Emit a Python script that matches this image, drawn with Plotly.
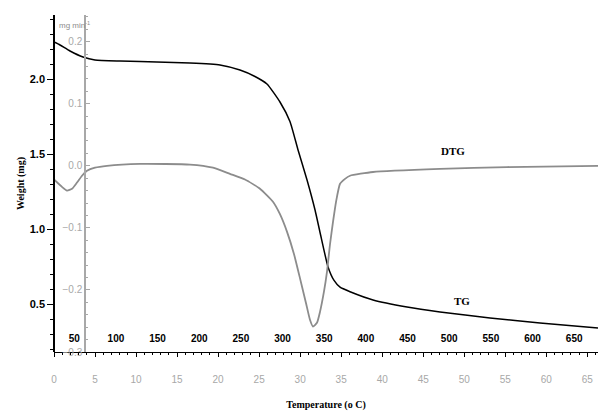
import plotly.graph_objects as go

# ---- data ----
tg_temp = [25.7, 32.9, 44.9, 60.5, 74.9, 104.9, 128.9, 188.9, 224.9, 248.9, 266.9, 281.3,
           296.9, 308.9, 318.6, 329.4, 339.0, 345.0, 354.6, 361.8, 369.0, 381.0, 408.6,
           449.4, 489.0, 549.0, 609.0, 678.6]
tg_weight = [2.25, 2.23, 2.19, 2.15, 2.13, 2.123, 2.12, 2.11, 2.097, 2.063, 2.02, 1.97,
             1.85, 1.72, 1.53, 1.33, 1.13, 0.98, 0.75, 0.66, 0.615, 0.585, 0.53,
             0.483, 0.45, 0.41, 0.377, 0.343]

dtg_temp = [25.7, 35.3, 41.3, 47.3, 53.3, 59.3, 65.3, 74.9, 89.3, 128.9, 188.9, 216.5,
            236.9, 254.9, 272.9, 288.5, 296.9, 305.3, 313.7, 320.9, 328.1, 332.9, 336.5,
            341.3, 345.0, 349.8, 353.4, 357.0, 360.6, 364.2, 369.0, 375.0, 381.0, 408.6,
            489.0, 569.4, 678.6]
dtg_rate = [-0.022, -0.034, -0.040, -0.037, -0.027, -0.016, -0.008, -0.003, 0.0, 0.003,
            0.002, -0.003, -0.013, -0.022, -0.037, -0.058, -0.078, -0.106, -0.142, -0.181,
            -0.221, -0.248, -0.259, -0.253, -0.235, -0.202, -0.170, -0.126, -0.090, -0.058,
            -0.029, -0.021, -0.016, -0.010, -0.005, -0.002, 0.0]

temp_ticks = [50, 100, 150, 200, 250, 300, 350, 400, 450, 500, 550, 600, 650]
temp_range = [25.7, 678.6]
time_range = [0, 66.3]
weight_range = [0.183, 2.43]
dtg_range = [-0.3, 0.243]

GRAY = "#8c8c8c"
LGRAY = "#a8a8a8"

fig = go.Figure()
fig.add_trace(go.Scatter(x=dtg_temp, y=dtg_rate, xaxis="x", yaxis="y2", mode="lines",
                         line=dict(color=GRAY, width=1.8, shape="spline", smoothing=0.5),
                         showlegend=False, hoverinfo="skip"))
fig.add_trace(go.Scatter(x=tg_temp, y=tg_weight, xaxis="x", yaxis="y", mode="lines",
                         line=dict(color="black", width=1.5, shape="spline", smoothing=0.5),
                         showlegend=False, hoverinfo="skip"))
# time axis carrier
fig.add_trace(go.Scatter(x=[], y=[], xaxis="x2", yaxis="y", showlegend=False, hoverinfo="skip"))

fig.update_layout(
    width=602, height=415,
    margin=dict(l=54, r=4, t=15, b=63),
    paper_bgcolor="white", plot_bgcolor="white",
    xaxis=dict(range=temp_range, anchor="free", position=0.062, showline=False,
               ticks="", tickvals=temp_ticks, showgrid=False, zeroline=False,
               tickfont=dict(family="Liberation Sans", size=10, color="black", weight="bold")),
    xaxis2=dict(range=time_range, overlaying="x", anchor="y", side="bottom",
                showline=True, linecolor="black", linewidth=1,
                ticks="outside", ticklen=4, tickcolor="black", dtick=5, tick0=0,
                minor=dict(dtick=1, ticks="outside", ticklen=2, tickcolor="black"),
                showgrid=False, zeroline=False, ticklabelstandoff=14,
                tickfont=dict(family="Liberation Sans", size=10, color=LGRAY),
                title=dict(text="Temperature (o C)", standoff=16,
                           font=dict(family="Liberation Serif", size=10, color="black",
                                     weight="bold"))),
    yaxis=dict(range=weight_range, anchor="free", position=0, side="left",
               showline=True, linecolor="black", linewidth=1.5,
               ticks="outside", ticklen=6, tickcolor="black", dtick=0.5, tick0=0,
               tickformat=".1f",
               minor=dict(dtick=0.1, ticks="outside", ticklen=3, tickcolor="black"),
               showgrid=False, zeroline=False,
               tickfont=dict(family="Liberation Sans", size=11, color="black", weight="bold"),
               title=dict(text="Weight (mg)", standoff=2,
                          font=dict(family="Liberation Serif", size=10, color="black",
                                    weight="bold"))),
    yaxis2=dict(range=dtg_range, overlaying="y", anchor="free", position=0.057, side="left",
                showline=True, linecolor=LGRAY, linewidth=1.5,
                ticks="inside", ticklen=4, tickcolor=LGRAY, dtick=0.1, tick0=0,
                tickformat=".1f",
                minor=dict(dtick=0.02, ticks="inside", ticklen=2, tickcolor=LGRAY),
                showgrid=False, zeroline=False,
                tickfont=dict(family="Liberation Sans", size=10, color=LGRAY)),
    annotations=[
        dict(text="mg min<sup>-1</sup>", xref="paper", yref="paper", x=0.006, y=0.99,
             xanchor="left", showarrow=False,
             font=dict(family="Liberation Sans", size=8, color=GRAY)),
        dict(text="<b>DTG</b>", xref="x", yref="y2", x=504, y=0.024, showarrow=False,
             font=dict(family="Liberation Serif", size=11, color="black")),
        dict(text="<b>TG</b>", xref="x", yref="y", x=515, y=0.52, showarrow=False,
             font=dict(family="Liberation Serif", size=11, color="black")),
    ],
)

fig.write_html("out.html")
